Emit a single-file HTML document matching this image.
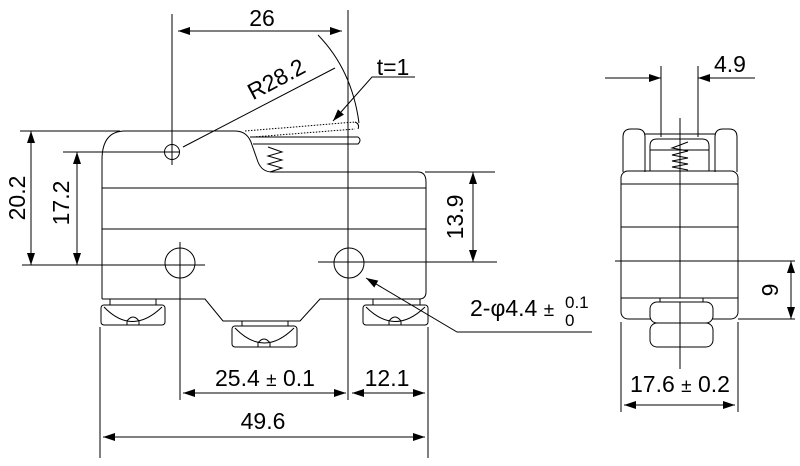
<!DOCTYPE html>
<html><head><meta charset="utf-8"><style>
html,body{margin:0;padding:0;background:#fff;}
svg{display:block;}
text{font-family:"Liberation Sans",sans-serif;fill:#000;}
</style></head><body>
<svg width="800" height="466" viewBox="0 0 800 466" xmlns="http://www.w3.org/2000/svg">
<defs>
<marker id="a" viewBox="0 0 12 8" refX="12" refY="4" markerWidth="12" markerHeight="8" markerUnits="userSpaceOnUse" orient="auto-start-reverse"><path d="M0,0 L12,4 L0,8 z" fill="#000"/></marker>
</defs>
<g fill="none" stroke="#000" stroke-width="1">
<line x1="172" y1="14" x2="172" y2="165"/>
<line x1="348" y1="10" x2="348" y2="400"/>
<line x1="178" y1="31" x2="342" y2="31" marker-start="url(#a)" marker-end="url(#a)"/>
<path d="M318,35 Q352,70 359,123"/>
<line x1="335" y1="68" x2="183" y2="147"/>
<polyline points="415,77 372,77 333,121" marker-end="url(#a)"/>
<line x1="245" y1="131" x2="355" y2="122" stroke-dasharray="1.5,1.5"/>
<line x1="253" y1="137" x2="355" y2="129" stroke-dasharray="1.5,1.5"/>
<path d="M355,122 Q360,124 358,129"/>
<path d="M250,137 L358,137 Q362,140 358,144 L253,144"/>
<polyline points="268,147 282,152 268,156 282,160 268,164 282,168 270,172"/>
<path d="M102,299 L102,160 Q102,131 125,131 L235,131 Q248,131 252,145 L258,162 Q262,172 272,172 L418,172 Q426,172 426,182 L426,292 Q426,299 419,299 L320,299 L300,321 L223,321 L205,299 L102,299"/>
<line x1="102" y1="188" x2="426" y2="188"/>
<line x1="102" y1="229" x2="426" y2="229"/>
<line x1="20" y1="131" x2="120" y2="131"/>
<line x1="63" y1="152" x2="180" y2="152"/>
<line x1="22" y1="265" x2="205" y2="265"/>
<line x1="31" y1="131" x2="31" y2="265" marker-start="url(#a)" marker-end="url(#a)"/>
<line x1="77" y1="152" x2="77" y2="265" marker-start="url(#a)" marker-end="url(#a)"/>
<circle cx="172" cy="152" r="7.5"/>
<circle cx="180" cy="263" r="15"/>
<line x1="180" y1="242" x2="180" y2="400"/>
<circle cx="349" cy="263" r="15"/>
<line x1="318" y1="262" x2="497" y2="262"/>
<line x1="425" y1="172" x2="495" y2="172"/>
<line x1="473" y1="172" x2="473" y2="262" marker-start="url(#a)" marker-end="url(#a)"/>
<polyline points="592,332 457,332 366,278" marker-end="url(#a)"/>
<rect x="110" y="299" width="46" height="6"/>
<rect x="101" y="305" width="64" height="20" rx="3"/>
<path d="M104,307 Q132,336 162,307"/>
<path d="M127,325 L127,321 Q133,313 139,321 L139,325"/>
<rect x="242" y="321" width="46" height="5"/>
<rect x="232" y="326" width="65" height="21" rx="3"/>
<path d="M235,328 Q264,358 294,328"/>
<path d="M258,347 L258,343 Q264,335 270,343 L270,347"/>
<rect x="373" y="299" width="47" height="6"/>
<rect x="363" y="305" width="65" height="20" rx="3"/>
<path d="M366,307 Q395,336 425,307"/>
<path d="M389,325 L389,321 Q395,313 401,321 L401,325"/>
<line x1="100" y1="327" x2="100" y2="458"/>
<line x1="428" y1="327" x2="428" y2="458"/>
<line x1="183" y1="393" x2="346" y2="393" marker-start="url(#a)" marker-end="url(#a)"/>
<line x1="352" y1="393" x2="425" y2="393" marker-start="url(#a)" marker-end="url(#a)"/>
<line x1="103" y1="437" x2="425" y2="437" marker-start="url(#a)" marker-end="url(#a)"/>

<line x1="661" y1="66" x2="661" y2="137"/>
<line x1="698" y1="66" x2="698" y2="137"/>
<line x1="605" y1="78" x2="661" y2="78" marker-end="url(#a)"/>
<line x1="755" y1="78" x2="698" y2="78" marker-end="url(#a)"/>
<path d="M623,172 L623,137 Q623,129 631,129 L637,129 Q645,129 645,137 L645,172"/>
<path d="M715,172 L715,137 Q715,129 723,129 L729,129 Q737,129 737,137 L737,172"/>
<line x1="645" y1="134" x2="715" y2="134"/>
<path d="M650,171 L650,146 Q650,139 657,139 L702,139 Q709,139 709,146 L709,171"/>
<line x1="650" y1="150" x2="709" y2="150"/>
<polyline points="688,142 672,148 688,151 672,155 688,158 672,161 688,164 672,167 688,170"/>
<rect x="621" y="171" width="117" height="148" rx="7"/>
<line x1="621" y1="184" x2="738" y2="184"/>
<line x1="621" y1="227" x2="738" y2="227"/>
<line x1="621" y1="298" x2="738" y2="298"/>
<line x1="680" y1="118" x2="680" y2="369"/>
<line x1="615" y1="261" x2="795" y2="261"/>
<line x1="738" y1="319" x2="795" y2="319"/>
<line x1="791" y1="261" x2="791" y2="319" marker-start="url(#a)" marker-end="url(#a)"/>
<rect x="660" y="298" width="43" height="5" fill="#fff"/>
<rect x="650" y="302" width="63" height="21" rx="7" fill="#fff"/>
<rect x="650" y="323" width="63" height="24" rx="7" fill="#fff"/>
<line x1="680" y1="302" x2="680" y2="369"/>
<line x1="621" y1="322" x2="621" y2="412"/>
<line x1="738" y1="322" x2="738" y2="412"/>
<line x1="624" y1="405" x2="735" y2="405" marker-start="url(#a)" marker-end="url(#a)"/>
</g>
<g font-size="23">
<text x="262" y="26" text-anchor="middle">26</text>
<text x="0" y="0" text-anchor="middle" transform="translate(280,86) rotate(-28)">R28.2</text>
<text x="393" y="75" text-anchor="middle">t=1</text>
<text x="0" y="0" text-anchor="middle" transform="translate(25,198) rotate(-90)">20.2</text>
<text x="0" y="0" text-anchor="middle" transform="translate(69,203) rotate(-90)">17.2</text>
<text x="0" y="0" text-anchor="middle" transform="translate(463,217) rotate(-90)">13.9</text>
<text x="470" y="316">2-φ4.4 <tspan font-size="19">±</tspan></text>
<text x="565" y="308" font-size="17">0.1</text>
<text x="565" y="326" font-size="17">0</text>
<text x="265" y="386" text-anchor="middle">25.4 <tspan font-size="19">±</tspan> 0.1</text>
<text x="387" y="386" text-anchor="middle">12.1</text>
<text x="263" y="429" text-anchor="middle">49.6</text>
<text x="730" y="72" text-anchor="middle">4.9</text>
<text x="0" y="0" text-anchor="middle" transform="translate(778,290) rotate(-90)">9</text>
<text x="680" y="392" text-anchor="middle">17.6 <tspan font-size="19">±</tspan> 0.2</text>
</g>
</svg>
</body></html>
